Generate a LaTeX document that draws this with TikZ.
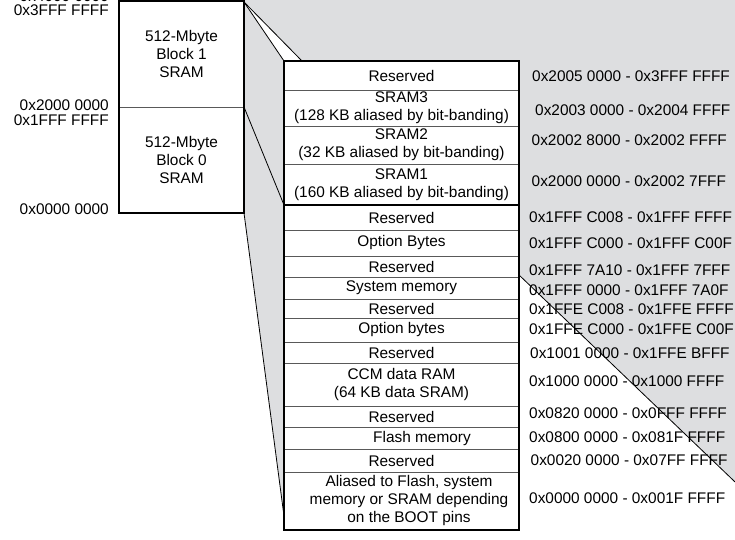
\documentclass[tikz,border=0pt]{standalone}
\usepackage{fontspec}
\setmainfont{Liberation Sans}
\definecolor{projgrey}{RGB}{221,222,224}
\newcommand{\mapfont}{\fontsize{15.4}{18}\selectfont}
\begin{document}
\begin{tikzpicture}[x=1pt,y=-1pt,
  cell/.style={draw=black!65, line width=0.9pt, fill=white, minimum width=235pt, inner sep=0pt, outer sep=0pt, align=center, font=\mapfont},
  txt/.style={inner sep=0pt, align=center, font=\mapfont},
  addr/.style={inner sep=0pt, anchor=west, font=\mapfont},
  laddr/.style={inner sep=0pt, anchor=east, font=\mapfont},
  frame/.style={draw=black, line width=2.2pt},
  proj/.style={draw=black, line width=0.8pt}]
\useasboundingbox (0,0) rectangle (735,539);

% projection anchor points
\coordinate (bTR) at (244,2);
\coordinate (bMR) at (244,107);
\coordinate (bBR) at (244,213);
\coordinate (dTL) at (284,61);
\coordinate (dT2) at (302,61);
\coordinate (dML) at (284,205);
\coordinate (dBL) at (284,516);
\coordinate (dRR) at (518,274);
\coordinate (pTL) at (244,-2);
\coordinate (pTR) at (740,-2);
\coordinate (pBR) at (740,486.8);
\coordinate (dTR) at (518,61);
\coordinate (edge) at (745,491.5);

% grey projection areas
\fill[projgrey] (pTL) -- (pTR) -- (pBR) -- (dRR) -- (dTR) -- (dT2) -- (bTR) -- cycle;
\fill[projgrey] (bTR) -- (dTL) -- (dBL) -- (bBR) -- cycle;

% projection lines
\draw[proj] (bTR) -- (dTL);
\draw[proj] (bTR) -- (dT2);
\draw[proj] (bMR) -- (dML);
\draw[proj] (bBR) -- (dBL);
\draw[proj] (dRR) -- (edge);

% left memory block
\node[cell, minimum width=125pt, minimum height=106pt] (blk1) at (181.5,54) {512-Mbyte\\Block 1\\SRAM};
\node[cell, minimum width=125pt, minimum height=106pt] (blk0) at (181.5,160) {512-Mbyte\\Block 0\\SRAM};
\draw[frame] (blk1.north west) rectangle (blk0.south east);

% left addresses
\node[laddr, anchor=base east] (l0) at (109,1.5) {0x4000 0000};
\node[laddr] (l1) at (109,10.5) {0x3FFF FFFF};
\node[laddr] (l2) at (109,105) {0x2000 0000};
\node[laddr] (l3) at (109,120) {0x1FFF FFFF};
\node[laddr] (l4) at (109,209) {0x0000 0000};

% upper detail box
\node[cell, minimum height=29pt] (r1) at (401.5,75.5) {Reserved};
\node[cell, minimum height=36pt] (r2) at (401.5,108) {SRAM3\\(128 KB aliased by bit-banding)};
\node[cell, minimum height=38pt] (r3) at (401.5,145) {SRAM2\\(32 KB aliased by bit-banding)};
\node[cell, minimum height=41pt] (r4) at (401.5,184.5) {SRAM1\\(160 KB aliased by bit-banding)};
\draw[frame] (r1.north west) rectangle (r4.south east);

% lower detail box
\node[cell, minimum height=25pt] (r5) at (401.5,217.5) {Reserved};
\node[cell, minimum height=26pt] (r6) at (401.5,243) {Option Bytes};
\node[cell, minimum height=21pt] (r7) at (401.5,266.5) {Reserved};
\node[cell, minimum height=22pt] (r8) at (401.5,288) {System memory};
\node[cell, minimum height=19pt] (r9) at (401.5,308.5) {Reserved};
\node[cell, minimum height=24pt] (r10) at (401.5,330) {Option bytes};
\node[cell, minimum height=21pt] (r11) at (401.5,352.5) {Reserved};
\node[cell, minimum height=43pt] (r12) at (401.5,384.5) {CCM data RAM\\(64 KB data SRAM)};
\node[cell, minimum height=21pt] (r13) at (401.5,416.5) {Reserved};
\node[cell, minimum height=22pt] (r14) at (401.5,438) {};
\node[cell, minimum height=23pt] (r15) at (401.5,460.5) {Reserved};
\node[cell, minimum height=58pt] (r16) at (401.5,501) {};
\node[txt] (t14) at (422,439) {Flash memory};
\node[txt] (t16) at (409,501) {Aliased to Flash, system\\memory or SRAM depending\\on the BOOT pins};
\draw[frame] (r5.north west) rectangle (r16.south east);

% right addresses
\node[addr] (a1) at (532,76) {0x2005 0000 - 0x3FFF FFFF};
\node[addr] (a2) at (535,110.5) {0x2003 0000 - 0x2004 FFFF};
\node[addr] (a3) at (531.5,140) {0x2002 8000 - 0x2002 FFFF};
\node[addr] (a4) at (531.5,181.5) {0x2000 0000 - 0x2002 7FFF};
\node[addr] (a5) at (529,217) {0x1FFF C008 - 0x1FFF FFFF};
\node[addr] (a6) at (529,243) {0x1FFF C000 - 0x1FFF C00F};
\node[addr] (a7) at (529,270) {0x1FFF 7A10 - 0x1FFF 7FFF};
\node[addr] (a8) at (529,290) {0x1FFF 0000 - 0x1FFF 7A0F};
\node[addr] (a9) at (529,309) {0x1FFE C008 - 0x1FFE FFFF};
\node[addr] (a10) at (529,329) {0x1FFE C000 - 0x1FFE C00F};
\node[addr] (a11) at (530,353) {0x1001 0000 - 0x1FFE BFFF};
\node[addr] (a12) at (529,381.5) {0x1000 0000 - 0x1000 FFFF};
\node[addr] (a13) at (529,413) {0x0820 0000 - 0x0FFF FFFF};
\node[addr] (a14) at (529,437.5) {0x0800 0000 - 0x081F FFFF};
\node[addr] (a15) at (530.5,460) {0x0020 0000 - 0x07FF FFFF};
\node[addr] (a16) at (529,498) {0x0000 0000 - 0x001F FFFF};
\end{tikzpicture}
\end{document}
